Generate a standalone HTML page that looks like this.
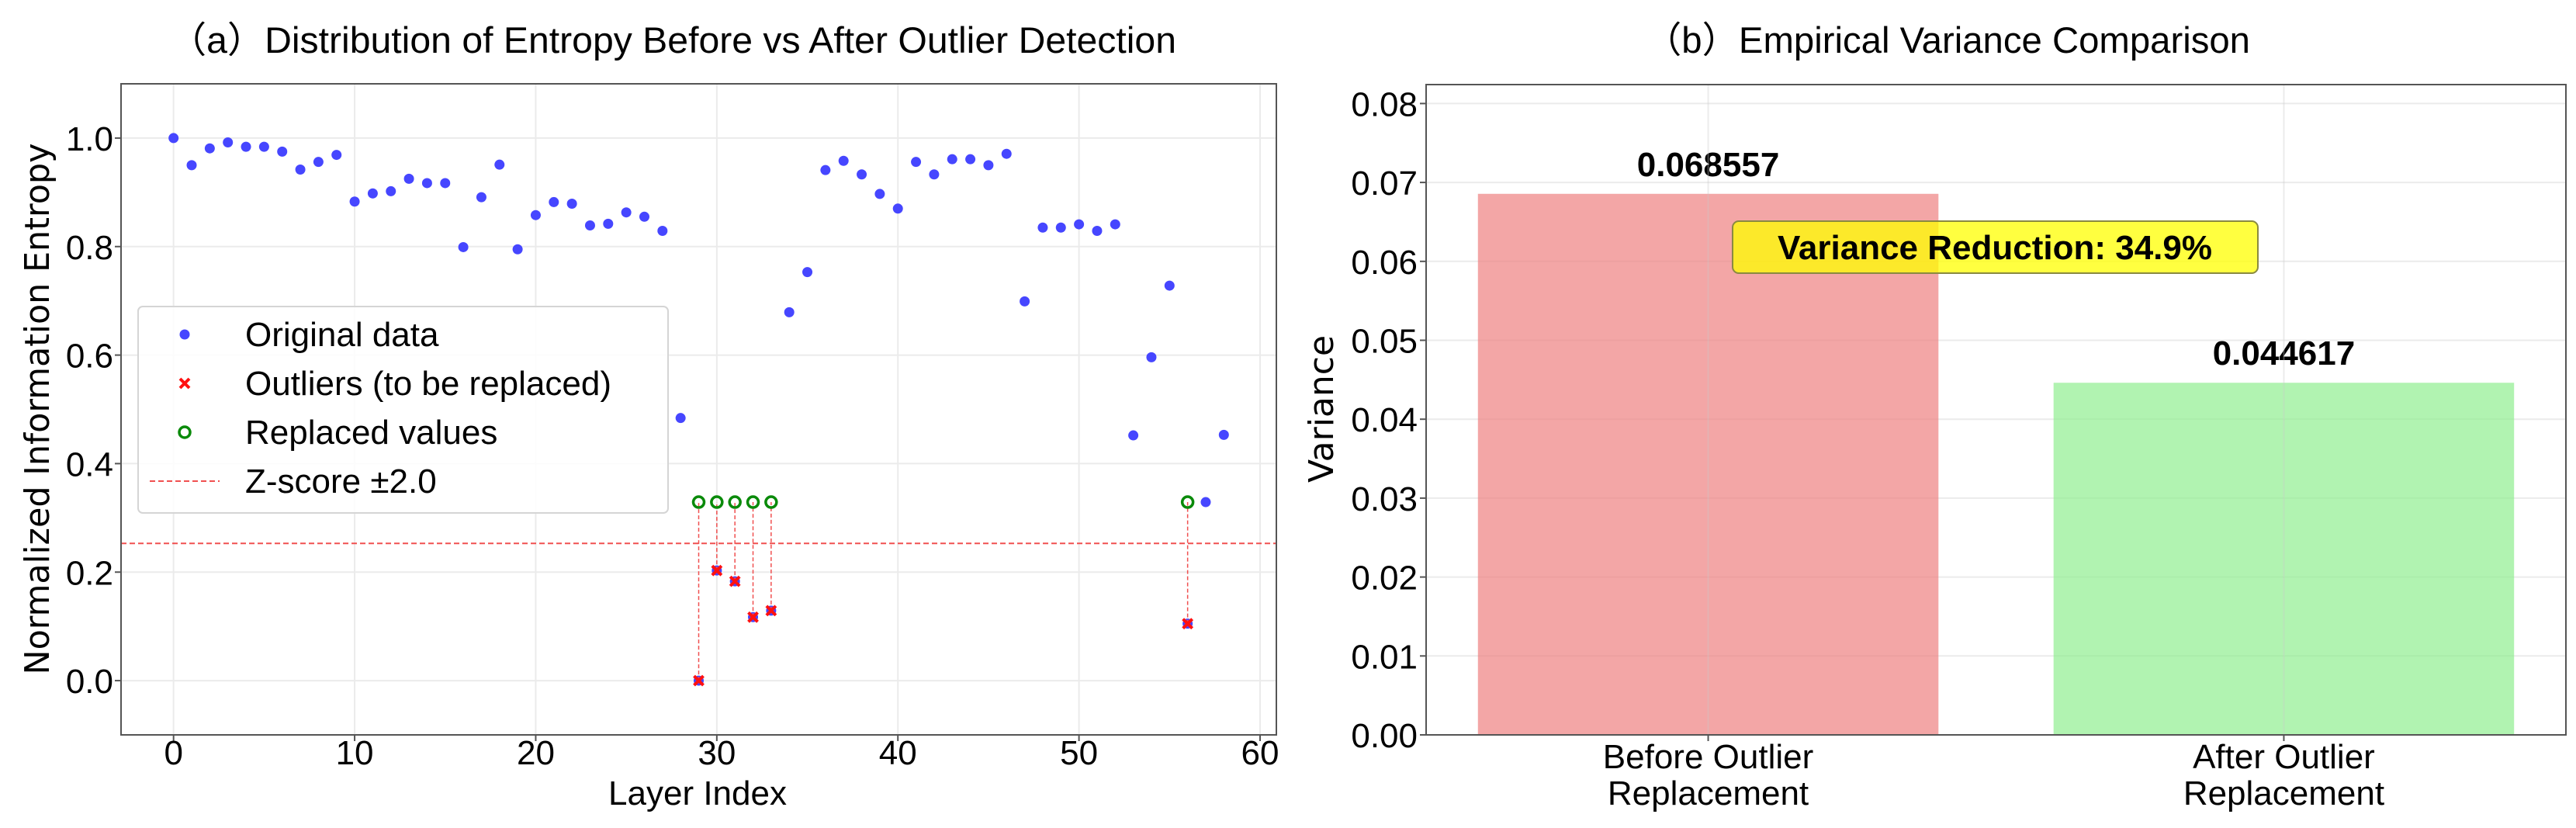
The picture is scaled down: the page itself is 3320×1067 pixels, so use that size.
<!DOCTYPE html>
<html><head><meta charset="utf-8"><style>
html,body{margin:0;padding:0;background:#fff;}
svg{display:block;font-family:"Liberation Sans","Noto Sans CJK SC",sans-serif;}
</style></head><body>
<svg id="chart" width="3320" height="1067" viewBox="0 0 3320 1067" xmlns="http://www.w3.org/2000/svg">
<rect width="3320" height="1067" fill="#fff"/>
<g id="left"></g>
<g id="right"></g>
</svg>
<script>
const layers = [];
for (let i = 0; i <= 58; i++) layers.push(i);
const entropyValues = [1.0,0.95,0.981,0.992,0.984,0.984,0.975,0.942,0.956,0.969,
0.883,0.898,0.902,0.925,0.917,0.917,0.799,0.891,0.951,0.795,
0.858,0.882,0.879,0.839,0.842,0.863,0.855,0.829,0.484,0.0,
0.203,0.183,0.117,0.129,0.679,0.753,0.941,0.958,0.933,0.897,
0.870,0.956,0.933,0.961,0.961,0.950,0.971,0.699,0.835,0.835,
0.841,0.829,0.841,0.452,0.596,0.728,0.105,0.329,0.453];
const outlierIdx = [29,30,31,32,33,56];
const replacedValue = [0.329,0.329,0.329,0.329,0.329,0.329];
const zThreshold = [0.253];
const xTicks = [0,10,20,30,40,50,60];
const yTicks = [0.0,0.2,0.4,0.6,0.8,1.0];
const yTickLabels = ["0.0","0.2","0.4","0.6","0.8","1.0"];

const barCategories = [["Before Outlier","Replacement"],["After Outlier","Replacement"]];
const barValues = [0.068557, 0.044617];
const barLabels = ["0.068557","0.044617"];
const varTicks = [0,0.01,0.02,0.03,0.04,0.05,0.06,0.07,0.08];
const varTickLabels = ["0.00","0.01","0.02","0.03","0.04","0.05","0.06","0.07","0.08"];
const reductionLabel = ["Variance Reduction: 34.9%"];

const NS = "http://www.w3.org/2000/svg";
function mk(parent, tag, attrs, text) {
  const e = document.createElementNS(NS, tag);
  for (const k in attrs) e.setAttribute(k, attrs[k]);
  if (text !== undefined) e.textContent = text;
  parent.appendChild(e);
  return e;
}

// ---------- Left panel ----------
const L = document.getElementById('left');
const lx0 = 156, lx1 = 1645, ly0 = 108, ly1 = 947;
const xMin = -2.9, xMax = 60.9, yMin = -0.1, yMax = 1.1;
const X = v => lx0 + (v - xMin) / (xMax - xMin) * (lx1 - lx0);
const Y = v => ly1 - (v - yMin) / (yMax - yMin) * (ly1 - ly0);

let t = mk(L, 'text', {x: 218, y: 68, 'font-size': 47, fill: '#000', textLength: 1298, lengthAdjust: 'spacingAndGlyphs'}, "（a）Distribution of Entropy Before vs After Outlier Detection");



xTicks.forEach(v => {
  let g = mk(L, 'line', {x1: X(v), x2: X(v), y1: ly0, y2: ly1, stroke: '#ebebeb', 'stroke-width': 2});
  
  
  mk(L, 'line', {x1: X(v), x2: X(v), y1: ly1, y2: ly1 + 8, stroke: '#555', 'stroke-width': 2});
  let tl = mk(L, 'text', {x: X(v), y: 985, 'font-size': 44, 'text-anchor': 'middle'}, String(v));
  
  
});
yTicks.forEach((v, i) => {
  let g = mk(L, 'line', {x1: lx0, x2: lx1, y1: Y(v), y2: Y(v), stroke: '#ebebeb', 'stroke-width': 2});
  
  
  mk(L, 'line', {x1: lx0 - 8, x2: lx0, y1: Y(v), y2: Y(v), stroke: '#555', 'stroke-width': 2});
  let tl = mk(L, 'text', {x: 146, y: Y(v) + 16, 'font-size': 44, 'text-anchor': 'end'}, yTickLabels[i]);
  
  
});

// threshold line
let zl = mk(L, 'line', {x1: lx0, x2: lx1, y1: Y(zThreshold[0]), y2: Y(zThreshold[0]), stroke: '#f05050', 'stroke-width': 2, 'stroke-dasharray': '7,4'});



// original points
layers.forEach((l, i) => {
  let c = mk(L, 'circle', {cx: X(l), cy: Y(entropyValues[i]), r: 6.5, fill: '#4646ff'});
  
  
});
// outliers, connectors, replaced
outlierIdx.forEach((idx, k) => {
  const x = X(layers[idx]), yo = Y(entropyValues[idx]), yr = Y(replacedValue[k]);
  let ln = mk(L, 'line', {x1: x, x2: x, y1: yo, y2: yr, stroke: '#f05050', 'stroke-width': 1.5, 'stroke-dasharray': '5,3'});
  
  
  let g = mk(L, 'path', {d: `M${x-6},${yo-6}L${x+6},${yo+6}M${x-6},${yo+6}L${x+6},${yo-6}`, stroke: '#ff1010', 'stroke-width': 4});
  
  
  let r = mk(L, 'circle', {cx: x, cy: yr, r: 7, fill: 'none', stroke: '#0a8a0a', 'stroke-width': 3.5});
  
  
});

let fr = mk(L, 'rect', {x: lx0, y: ly0, width: lx1 - lx0, height: ly1 - ly0, fill: 'none', stroke: '#555', 'stroke-width': 2});



let xl = mk(L, 'text', {x: 899, y: 1037, 'font-size': 44, 'text-anchor': 'middle'}, "Layer Index");


let yl = mk(L, 'text', {x: 0, y: 0, 'font-size': 44, 'text-anchor': 'middle', transform: 'translate(63,527) rotate(-90)', 'font-family': '"DejaVu Sans",sans-serif', textLength: 685, lengthAdjust: 'spacingAndGlyphs'}, "Normalized Information Entropy");



// legend
const lg = mk(L, 'g', {});


mk(lg, 'rect', {x: 178, y: 395, width: 683, height: 266, rx: 6, fill: 'rgba(255,255,255,0.85)', stroke: '#d5d5d5', 'stroke-width': 2});
const legY = [431, 494, 557, 620];
const legText = ["Original data", "Outliers (to be replaced)", "Replaced values", "Z-score ±2.0"];
mk(lg, 'circle', {cx: 238, cy: legY[0], r: 6.5, fill: '#4646ff'});
mk(lg, 'path', {d: `M232,${legY[1]-6}L244,${legY[1]+6}M232,${legY[1]+6}L244,${legY[1]-6}`, stroke: '#ff1010', 'stroke-width': 4});
mk(lg, 'circle', {cx: 238, cy: legY[2], r: 7, fill: 'none', stroke: '#0a8a0a', 'stroke-width': 3.5});
mk(lg, 'line', {x1: 193, x2: 283, y1: legY[3], y2: legY[3], stroke: '#f05050', 'stroke-width': 2, 'stroke-dasharray': '7,4'});
legText.forEach((s, i) => {
  let e = mk(lg, 'text', {x: 316, y: legY[i] + 15, 'font-size': 44}, s);
  
  
});

// ---------- Right panel ----------
const R = document.getElementById('right');
const rx0 = 1838, rx1 = 3307, ry0 = 109, ry1 = 947;
const bxMin = -0.49, bxMax = 1.49, vMax = 0.0824;
const BX = v => rx0 + (v - bxMin) / (bxMax - bxMin) * (rx1 - rx0);
const BY = v => ry1 - v / vMax * (ry1 - ry0);

let t2 = mk(R, 'text', {x: 2120, y: 68, 'font-size': 47, textLength: 780, lengthAdjust: 'spacingAndGlyphs'}, "（b）Empirical Variance Comparison");



varTicks.forEach((v, i) => {
  let g = mk(R, 'line', {x1: rx0, x2: rx1, y1: BY(v), y2: BY(v), stroke: '#ebebeb', 'stroke-width': 2});
  
  
  mk(R, 'line', {x1: rx0 - 8, x2: rx0, y1: BY(v), y2: BY(v), stroke: '#555', 'stroke-width': 2});
  let tl = mk(R, 'text', {x: 1827, y: BY(v) + 16, 'font-size': 44, 'text-anchor': 'end'}, varTickLabels[i]);
  
  
});
const barColors = ['rgba(238,128,128,0.7)', 'rgba(144,238,144,0.7)'];
barValues.forEach((v, i) => {
  const left = BX(i - 0.4), right = BX(i + 0.4);
  let b = mk(R, 'rect', {x: left, y: BY(v), width: right - left, height: BY(0) - BY(v), fill: barColors[i]});
  
  
  let vl = mk(R, 'text', {x: BX(i), y: BY(v) - 23, 'font-size': 44, 'font-weight': 'bold', 'text-anchor': 'middle'}, barLabels[i]);
  
  
  mk(R, 'line', {x1: BX(i), x2: BX(i), y1: ry0, y2: ry1, stroke: 'rgba(200,200,200,0.35)', 'stroke-width': 2});
  mk(R, 'line', {x1: BX(i), x2: BX(i), y1: ry1, y2: ry1 + 8, stroke: '#555', 'stroke-width': 2});
  barCategories[i].forEach((s, j) => {
    let c = mk(R, 'text', {x: BX(i), y: 990 + j * 47, 'font-size': 44, 'text-anchor': 'middle'}, s);
    
    
  });
});
let ann = mk(R, 'rect', {x: 2233, y: 285, width: 677, height: 67, rx: 8, fill: 'rgba(255,255,0,0.75)', stroke: '#8a8a40', 'stroke-width': 2});


let at = mk(R, 'text', {x: 2571, y: 334, 'font-size': 44, 'font-weight': 'bold', 'text-anchor': 'middle'}, reductionLabel[0]);



let fr2 = mk(R, 'rect', {x: rx0, y: ry0, width: rx1 - rx0, height: ry1 - ry0, fill: 'none', stroke: '#555', 'stroke-width': 2});


let vy = mk(R, 'text', {x: 0, y: 0, 'font-size': 44, 'text-anchor': 'middle', transform: 'translate(1718,527) rotate(-90)', 'font-family': '"DejaVu Sans",sans-serif'}, "Variance");


</script>
</body></html>
